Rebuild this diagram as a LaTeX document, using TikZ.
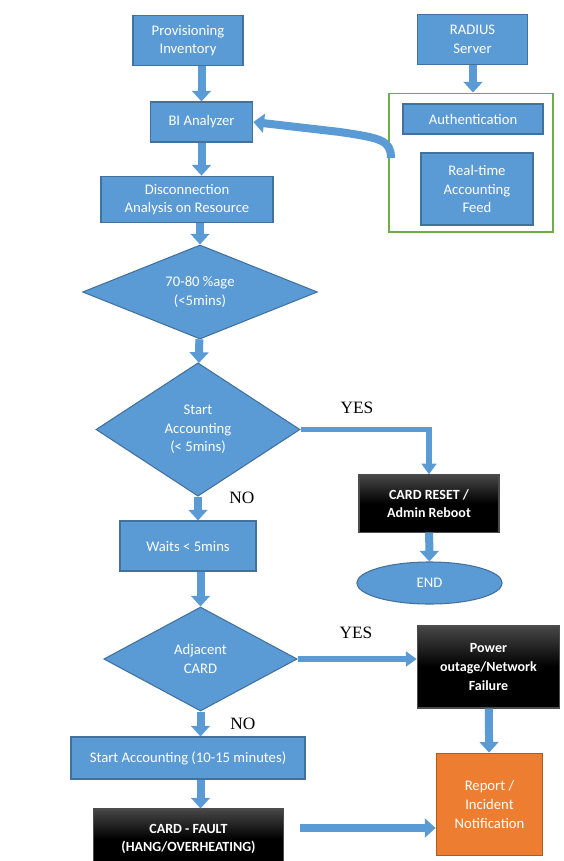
\documentclass[tikz,border=0pt]{standalone}
\usepackage{fontspec}
\setmainfont{Carlito}
\newfontfamily\labelfont{Liberation Serif}
\usetikzlibrary{shapes.geometric,arrows.meta}
\definecolor{boxblue}{HTML}{5B9BD5}
\definecolor{boxline}{HTML}{41719C}
\definecolor{boxorange}{HTML}{ED7D31}
\definecolor{orangeline}{HTML}{AE5A21}
\definecolor{groupgreen}{HTML}{70AD47}
\tikzset{
  box/.style={rectangle, fill=boxblue, draw=boxline, line width=0.8pt, text=white, align=center, inner sep=1pt, font=\fontsize{11}{14}\selectfont},
  darkbox/.style={box, draw=black!70, top color=black!72, bottom color=black, middle color=black, font=\bfseries\fontsize{10.5}{14}\selectfont},
  decision/.style={box, diamond, aspect=2, inner sep=0pt},
  blockarrow/.style={draw=boxblue, line width=6pt, -{Triangle[length=8pt,width=14pt]}},
  thinarrow/.style={blockarrow, line width=4pt, -{Triangle[length=8pt,width=11pt]}},
  yesno/.style={font=\labelfont\fontsize{13}{14}\selectfont}
}
\begin{document}
\begin{tikzpicture}[x=0.75pt, y=-0.75pt]
\useasboundingbox (0,0) rectangle (564,861);
\fill[white] (0,0) rectangle (564,861);
% top row
\node[box, minimum width=82.5pt, minimum height=38pt] (prov) at (188,40.5) {Provisioning\\Inventory};
\node[box, minimum width=83pt, minimum height=37pt] (radius) at (472.5,39.5) {RADIUS\\Server};
\node[box, minimum width=77pt, minimum height=30pt] (bi) at (201.5,122) {BI Analyzer};
\node[box, minimum width=129pt, minimum height=35pt] (disc) at (187,199.5) {Disconnection\\Analysis on Resource};
% RADIUS group
\node[draw=groupgreen, line width=1pt, minimum width=123pt, minimum height=104pt] (group) at (471,162.5) {};
\node[box, minimum width=105pt, minimum height=22.5pt] (auth) at (473,119) {Authentication};
\node[box, minimum width=84pt, minimum height=54pt] (feed) at (477,189) {Real-time\\Accounting\\Feed};
% decisions
\node[decision, minimum width=176pt, minimum height=70.5pt] (pct) at (200,292) {70-80 \%age\\(<5mins)};
\node[decision, minimum width=153pt, minimum height=100pt] (startacc) at (198,429.5) {Start\\Accounting\\(< 5mins)};
\node[darkbox, minimum width=105pt, minimum height=43pt] (reset) at (429,503.5) {CARD RESET /\\Admin Reboot};
\node[box, minimum width=102pt, minimum height=37.5pt] (waits) at (188,546) {Waits < 5mins};
\node[box, ellipse, minimum width=109pt, minimum height=31.5pt] (endnode) at (429.5,583) {END};
\node[decision, minimum width=145pt, minimum height=78pt] (adj) at (200.5,659) {Adjacent\\CARD};
\node[darkbox, minimum width=107pt, minimum height=61.5pt] (power) at (488.5,667) {Power\\outage/Network\\Failure};
\node[box, minimum width=175.5pt, minimum height=31.5pt] (startlong) at (188,758) {Start Accounting (10-15 minutes)};
\node[box, fill=boxorange, draw=orangeline, minimum width=80pt, minimum height=77pt] (report) at (489.5,804.5) {Report /\\Incident\\Notification};
\node[darkbox, minimum width=142pt, minimum height=45pt] (fault) at (188.5,839) {CARD - FAULT\\(HANG/OVERHEATING)};
% labels
\node[yesno] (yes1) at (357,408) {YES};
\node[yesno] (no1) at (242,498) {NO};
\node[yesno] (yes2) at (356,633) {YES};
\node[yesno] (no2) at (243,724) {NO};
% connectors
\coordinate (bendstart) at (391,158);
\draw[blockarrow] (prov.south -| bi) -- (bi.north);
\draw[blockarrow] (radius.south -| auth) -- (group.north -| auth);
\draw[blockarrow] (bi.south) -- (bi.south |- disc.north);
\draw[blockarrow] (bendstart) .. controls (391,140) and (380,138) .. (340,132) -- (bi.east);
\draw[blockarrow] (disc.south -| pct) -- (pct.north);
\draw[blockarrow] (pct) -- (startacc);
\draw[thinarrow] (startacc.east) -| (reset.north);
\draw[blockarrow] (startacc.south) -- (startacc.south |- waits.north);
\draw[blockarrow] (reset) -- (endnode);
\draw[blockarrow] (waits.south -| adj) -- (adj.north);
\draw[thinarrow] (adj.east) -- (adj.east -| power.west);
\draw[blockarrow] (power) -- (report);
\draw[blockarrow] (adj.south) -- (adj.south |- startlong.north);
\draw[blockarrow] (startlong.south -| adj) -- (fault.north -| adj);
\draw[blockarrow] ([xshift=12pt]fault.east |- 0,828) -- (report.west |- 0,828);
\end{tikzpicture}
\end{document}
